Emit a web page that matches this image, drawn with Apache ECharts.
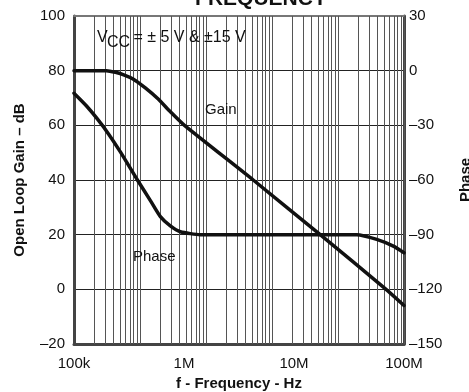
<!DOCTYPE html>
<html><head><meta charset="utf-8">
<script src="https://cdn.jsdelivr.net/npm/echarts@6/dist/echarts.min.js"></script>
<style>html,body{margin:0;padding:0;background:#fff}#c{width:469px;height:392px}</style>
</head><body><div id="c"></div>
<script>
// Open loop gain (dB) vs frequency (Hz)
const gainFreq = [1e5, 1.5e5, 1.97e5, 2.38e5, 2.87e5, 3.47e5, 4.45e5, 5.73e5, 7.52e5, 1.01e6, 4.26e6, 1.73e7, 6.87e7, 1e8];
const gainDb   = [80,  80,    80,     79.4,   78.4,   76.9,   73.7,   69.9,   65.0,   60.0,   40.0,   20.0,   0.0,    -5.9];
// Phase (deg) vs frequency (Hz)
const phaseFreq = [1e5, 1.30e5, 1.63e5, 2.06e5, 2.64e5, 3.77e5, 4.95e5, 6.10e5, 7.51e5, 9.26e5, 1.41e6, 1e7, 3.72e7, 5.65e7, 8.0e7, 1e8];
const phaseDeg  = [-12.4, -19.4, -26.5, -34.7, -44.6, -60, -71.3, -80.1, -85.2, -88.4, -90, -90, -90, -92.6, -96.3, -99.9];
// Axis ticks
const xTickValues = [1e5, 1e6, 1e7, 1e8];
const xTickLabels = ['100k', '1M', '10M', '100M'];
const gainTicks = [-20, 0, 20, 40, 60, 80, 100];
const phaseTicks = [-150, -120, -90, -60, -30, 0, 30];
// Printed log grid (5 decades drawn on the sheet)
const gridDecades = [1, 10, 100, 1000, 10000];
const gridFactors = [2, 3, 4, 5, 6, 7, 8, 9, 10];

const FONT = "'Liberation Sans', Arial, Helvetica, sans-serif";
const dash = v => (v < 0 ? '\u2013' + Math.abs(v) : String(v));

const gridLines = [];
gridDecades.forEach(d => gridFactors.forEach(f => gridLines.push({ xAxis: d * f })));

const chart = echarts.init(document.getElementById('c'), null, { renderer: 'canvas' });
chart.setOption({
  animation: false,
  backgroundColor: '#fff',
  textStyle: { fontFamily: FONT },
  title: {
    text: 'FREQUENCY', left: 256, top: -16, textAlign: 'center',
    textStyle: { fontSize: 21, fontWeight: 'bold', color: '#111', fontFamily: FONT }
  },
  grid: { left: 74, right: 65, top: 16, bottom: 48, containLabel: false, outerBoundsMode: 'none' },
  xAxis: [
    {
      type: 'log', logBase: 10, min: xTickValues[0], max: xTickValues[xTickValues.length - 1],
      position: 'bottom',
      name: 'f - Frequency - Hz', nameLocation: 'middle', nameGap: 31,
      nameTextStyle: { fontSize: 15, fontWeight: 'bold', color: '#111', fontFamily: FONT },
      axisLine: { show: true, onZero: false, lineStyle: { color: '#444', width: 3 } },
      axisTick: { show: false },
      splitLine: { show: false },
      minorTick: { show: false }, minorSplitLine: { show: false },
      axisLabel: {
        margin: 12, fontSize: 15, color: '#111', fontFamily: FONT,
        showMinLabel: true, showMaxLabel: true,
        formatter: v => xTickLabels[Math.round(Math.log10(v)) - 5] || ''
      }
    },
    {
      type: 'log', logBase: 10, min: 1, max: 1e5, position: 'top',
      axisLine: { show: true, onZero: false, lineStyle: { color: '#777', width: 2 } },
      axisTick: { show: false }, axisLabel: { show: false }, splitLine: { show: false }
    }
  ],
  yAxis: [
    {
      type: 'value', min: gainTicks[0], max: gainTicks[gainTicks.length - 1], interval: 20,
      position: 'left',
      name: 'Open Loop Gain \u2013 dB', nameLocation: 'middle', nameGap: 47, nameRotate: 90,
      nameTextStyle: { fontSize: 15, fontWeight: 'bold', color: '#111', fontFamily: FONT },
      axisLine: { show: true, onZero: false, lineStyle: { color: '#444', width: 3 } },
      axisTick: { show: false },
      splitLine: { show: true, lineStyle: { color: '#222', width: 1 } },
      axisLabel: { margin: 9, fontSize: 15, color: '#111', fontFamily: FONT, formatter: dash }
    },
    {
      type: 'value', min: phaseTicks[0], max: phaseTicks[phaseTicks.length - 1], interval: 30,
      position: 'right',
      name: 'Phase', nameLocation: 'middle', nameGap: 54, nameRotate: 90,
      nameTextStyle: { fontSize: 15, fontWeight: 'bold', color: '#111', fontFamily: FONT },
      axisLine: { show: true, onZero: false, lineStyle: { color: '#444', width: 3 } },
      axisTick: { show: false },
      splitLine: { show: false },
      axisLabel: { margin: 5, fontSize: 15, color: '#111', fontFamily: FONT, formatter: dash }
    }
  ],
  graphic: [
    { type: 'rect', z: 5, shape: { x: 80, y: 25, width: 218, height: 28 }, style: { fill: '#fff' } },
    { type: 'rect', z: 5, shape: { x: 197, y: 100, width: 52, height: 18 }, style: { fill: '#fff' } },
    { type: 'rect', z: 5, shape: { x: 125, y: 248, width: 57, height: 17 }, style: { fill: '#fff' } },
    { type: 'text', z: 6, x: 97, y: 38, style: { text: 'V', font: '16px ' + FONT, fill: '#111', textVerticalAlign: 'middle', verticalAlign: 'middle' } },
    { type: 'text', z: 6, x: 107, y: 43, style: { text: 'CC', font: '16px ' + FONT, fill: '#111', textVerticalAlign: 'middle', verticalAlign: 'middle' } },
    { type: 'text', z: 6, x: 129, y: 38, style: { text: ' = \u00b1 5 V & \u00b115 V', font: '16px ' + FONT, fill: '#111', textVerticalAlign: 'middle', verticalAlign: 'middle' } },
    { type: 'text', z: 6, x: 205, y: 110, style: { text: 'Gain', font: '15px ' + FONT, fill: '#111', textVerticalAlign: 'middle', verticalAlign: 'middle' } },
    { type: 'text', z: 6, x: 133, y: 256.5, style: { text: 'Phase', font: '15px ' + FONT, fill: '#111', textVerticalAlign: 'middle', verticalAlign: 'middle' } }
  ],
  series: [
    {
      type: 'line', xAxisIndex: 1, yAxisIndex: 0, data: [], silent: true, z: 1,
      symbol: 'none', lineStyle: { opacity: 0 },
      markLine: {
        silent: true, symbol: ['none', 'none'], label: { show: false }, animation: false,
        lineStyle: { color: '#555', width: 1, type: 'solid' },
        data: gridLines
      }
    },
    {
      name: 'Gain', type: 'line', xAxisIndex: 0, yAxisIndex: 0, z: 10,
      data: gainFreq.map((f, i) => [f, gainDb[i]]),
      symbol: 'none', smooth: 0.2,
      lineStyle: { color: '#111', width: 3.5, join: 'round', cap: 'round' }
    },
    {
      name: 'Phase', type: 'line', xAxisIndex: 0, yAxisIndex: 1, z: 10,
      data: phaseFreq.map((f, i) => [f, phaseDeg[i]]),
      symbol: 'none', smooth: 0.2,
      lineStyle: { color: '#111', width: 3.5, join: 'round', cap: 'round' }
    }
  ]
});
</script>
</body></html>
